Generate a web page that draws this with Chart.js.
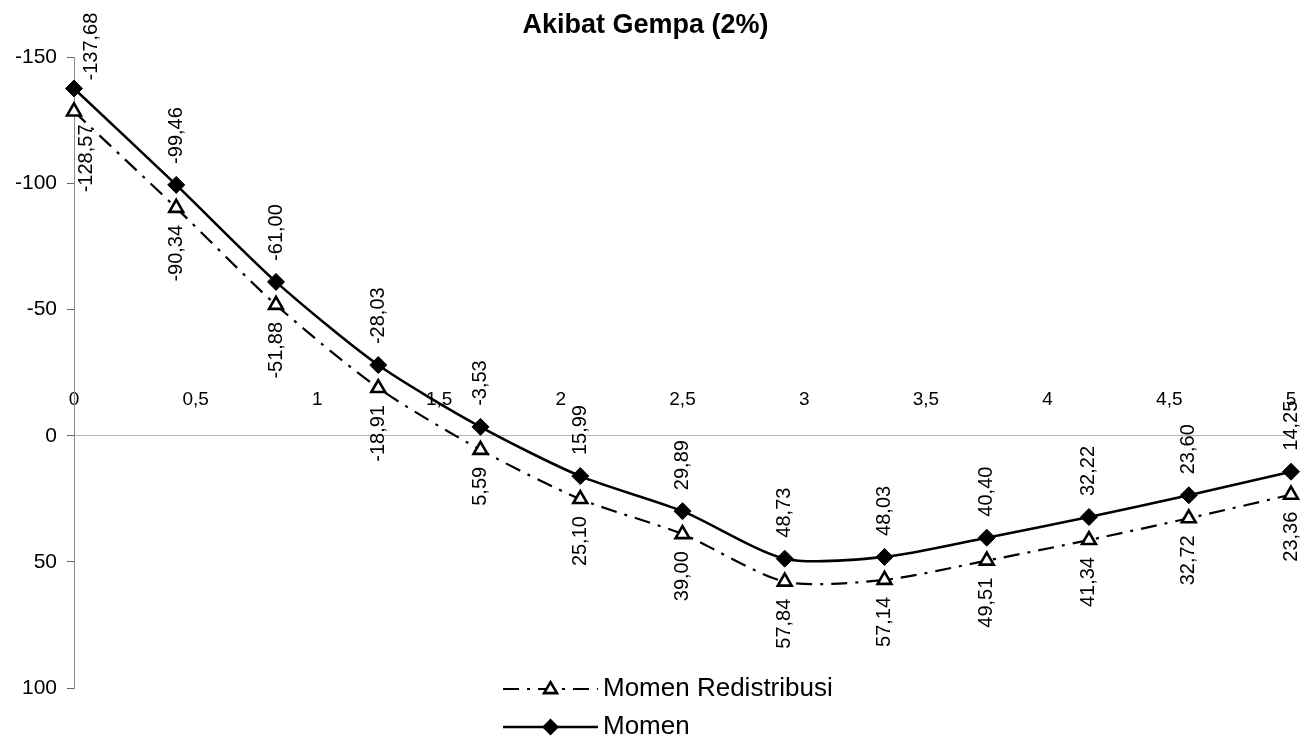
<!DOCTYPE html>
<html>
<head>
<meta charset="utf-8">
<title>Akibat Gempa (2%)</title>
<script src="https://cdn.jsdelivr.net/npm/chart.js@4.4.1/dist/chart.umd.min.js"></script>
<style>
  html, body { margin: 0; padding: 0; background: #fff; }
  #wrap { width: 1314px; height: 747px; }
  canvas { display: block; }
</style>
</head>
<body>
<div id="wrap"><canvas id="chart" width="1314" height="747"></canvas></div>
<script>
// ---- data ----
const chartTitle = 'Akibat Gempa (2%)';
const seriesNames = ['Momen Redistribusi', 'Momen'];
const positions = [0, 0.42, 0.83, 1.25, 1.67, 2.08, 2.5, 2.92, 3.33, 3.75, 4.17, 4.58, 5];
const momenRedistribusi = [-128.57, -90.34, -51.88, -18.91, 5.59, 25.10, 39.00, 57.84, 57.14, 49.51, 41.34, 32.72, 23.36];
const momen = [-137.68, -99.46, -61.00, -28.03, -3.53, 15.99, 29.89, 48.73, 48.03, 40.40, 32.22, 23.60, 14.25];
const yTicks = [-150, -100, -50, 0, 50, 100];
const xTicks = [0, 0.5, 1, 1.5, 2, 2.5, 3, 3.5, 4, 4.5, 5];

// ---- helpers ----
const FONT = '"Liberation Sans", Arial, Helvetica, sans-serif';
const comma = (v, digits) => (digits === undefined ? String(Math.round(v * 100) / 100) : v.toFixed(digits)).replace('.', ',');
const toPoints = values => positions.map((x, i) => ({ x: x, y: values[i] }));

// Rotated value labels next to each point (above for Momen, below for the redistributed series)
const valueLabels = {
  id: 'valueLabels',
  afterDatasetsDraw(chart, args, opts) {
    const ctx = chart.ctx;
    ctx.save();
    ctx.font = opts.size + 'px ' + FONT;
    ctx.fillStyle = '#000';
    ctx.textBaseline = 'middle';
    chart.data.datasets.forEach((ds, di) => {
      const meta = chart.getDatasetMeta(di);
      const above = ds.labelSide === 'above';
      const nudge = (opts.nudges[di] || {});
      meta.data.forEach((pt, i) => {
        const value = ds.data[i].y;
        const n = nudge[i] || { dx: 0, gap: above ? opts.gapAbove : opts.gapBelow };
        ctx.save();
        ctx.translate(pt.x + n.dx, above ? pt.y - n.gap : pt.y + n.gap);
        ctx.rotate(-Math.PI / 2);
        ctx.textAlign = above ? 'left' : 'right';
        ctx.fillText(comma(value, 2), 0, 0);
        ctx.restore();
      });
    });
    ctx.restore();
  }
};

// Two-row key at the bottom: line sample with its marker, then the series name
const seriesKey = {
  id: 'seriesKey',
  afterDraw(chart, args, opts) {
    const ctx = chart.ctx;
    ctx.save();
    ctx.font = opts.size + 'px ' + FONT;
    ctx.textBaseline = 'middle';
    ctx.textAlign = 'left';
    chart.data.datasets.forEach((ds, i) => {
      const y = opts.top + i * opts.rowGap;
      const x0 = opts.left, x1 = opts.left + opts.sample;
      ctx.save();
      ctx.strokeStyle = ds.borderColor;
      ctx.lineWidth = ds.borderWidth;
      ctx.setLineDash(ds.borderDash || []);
      ctx.beginPath();
      ctx.moveTo(x0, y);
      ctx.lineTo(x1, y);
      ctx.stroke();
      ctx.setLineDash([]);
      const cx = (x0 + x1) / 2;
      ctx.beginPath();
      if (ds.pointStyle === 'rectRot') {
        const r = ds.pointRadius;
        ctx.moveTo(cx, y - r); ctx.lineTo(cx + r, y); ctx.lineTo(cx, y + r); ctx.lineTo(cx - r, y);
        ctx.closePath();
        ctx.fillStyle = ds.pointBackgroundColor;
        ctx.fill();
      } else {
        const r = ds.pointRadius * 0.85;
        ctx.moveTo(cx, y - r); ctx.lineTo(cx + r * 0.95, y + r * 0.6); ctx.lineTo(cx - r * 0.95, y + r * 0.6);
        ctx.closePath();
        ctx.fillStyle = ds.pointBackgroundColor;
        ctx.fill();
        ctx.lineWidth = ds.pointBorderWidth;
        ctx.strokeStyle = ds.pointBorderColor;
        ctx.stroke();
      }
      ctx.restore();
      ctx.fillStyle = '#000';
      ctx.fillText(ds.label, x1 + opts.textGap, y);
    });
    ctx.restore();
  }
};

new Chart(document.getElementById('chart'), {
  type: 'line',
  data: {
    datasets: [
      {
        label: seriesNames[0],
        data: toPoints(momenRedistribusi),
        labelSide: 'below',
        borderColor: '#000',
        borderWidth: 2.2,
        borderDash: [16, 8, 3, 8],
        pointStyle: 'triangle',
        pointRadius: 8,
        pointBackgroundColor: '#fff',
        pointBorderColor: '#000',
        pointBorderWidth: 2.6,
        tension: 0.25,
        fill: false,
        clip: false
      },
      {
        label: seriesNames[1],
        data: toPoints(momen),
        labelSide: 'above',
        borderColor: '#000',
        borderWidth: 2.6,
        pointStyle: 'rectRot',
        pointRadius: 8.5,
        pointBackgroundColor: '#000',
        pointBorderColor: '#000',
        pointBorderWidth: 1,
        tension: 0.25,
        fill: false,
        clip: false
      }
    ]
  },
  options: {
    responsive: false,
    animation: false,
    devicePixelRatio: 1,
    layout: { padding: { left: 0, right: 23, top: 0, bottom: 59 } },
    scales: {
      x: {
        type: 'linear',
        position: { y: 0 },
        min: xTicks[0],
        max: xTicks[xTicks.length - 1],
        afterBuildTicks: s => { s.ticks = xTicks.map(v => ({ value: v })); },
        grid: { drawOnChartArea: false, drawTicks: false },
        border: { display: true, color: '#b5b5b5', width: 1, dash: [10, 6] },
        ticks: {
          color: '#000',
          font: { size: 19, family: FONT },
          padding: -47,
          maxRotation: 0,
          autoSkip: false,
          callback: v => comma(v)
        }
      },
      y: {
        type: 'linear',
        reverse: true,
        min: yTicks[0],
        max: yTicks[yTicks.length - 1],
        afterBuildTicks: s => { s.ticks = yTicks.map(v => ({ value: v })); },
        afterFit: s => { s.width = 74; },
        grid: { drawOnChartArea: false, drawTicks: true, tickLength: 7, color: '#666', lineWidth: 1 },
        border: { display: true, color: '#8a8a8a', width: 1 },
        ticks: {
          color: '#000',
          font: { size: 21, family: FONT },
          padding: 10,
          callback: v => comma(v)
        }
      }
    },
    plugins: {
      title: {
        display: true,
        text: chartTitle,
        color: '#000',
        font: { size: 27, weight: 'bold', family: FONT },
        padding: { top: 9, bottom: 16 }
      },
      legend: { display: false },
      tooltip: { enabled: false },
      valueLabels: {
        size: 20,
        gapAbove: 21,
        gapBelow: 17,
        nudges: {
          0: { 0: { dx: 12, gap: 13 } },
          1: { 0: { dx: 17, gap: 8 } }
        }
      },
      seriesKey: { size: 26, left: 503, sample: 95, textGap: 5, top: 689, rowGap: 38 }
    }
  },
  plugins: [valueLabels, seriesKey]
});
</script>
</body>
</html>
